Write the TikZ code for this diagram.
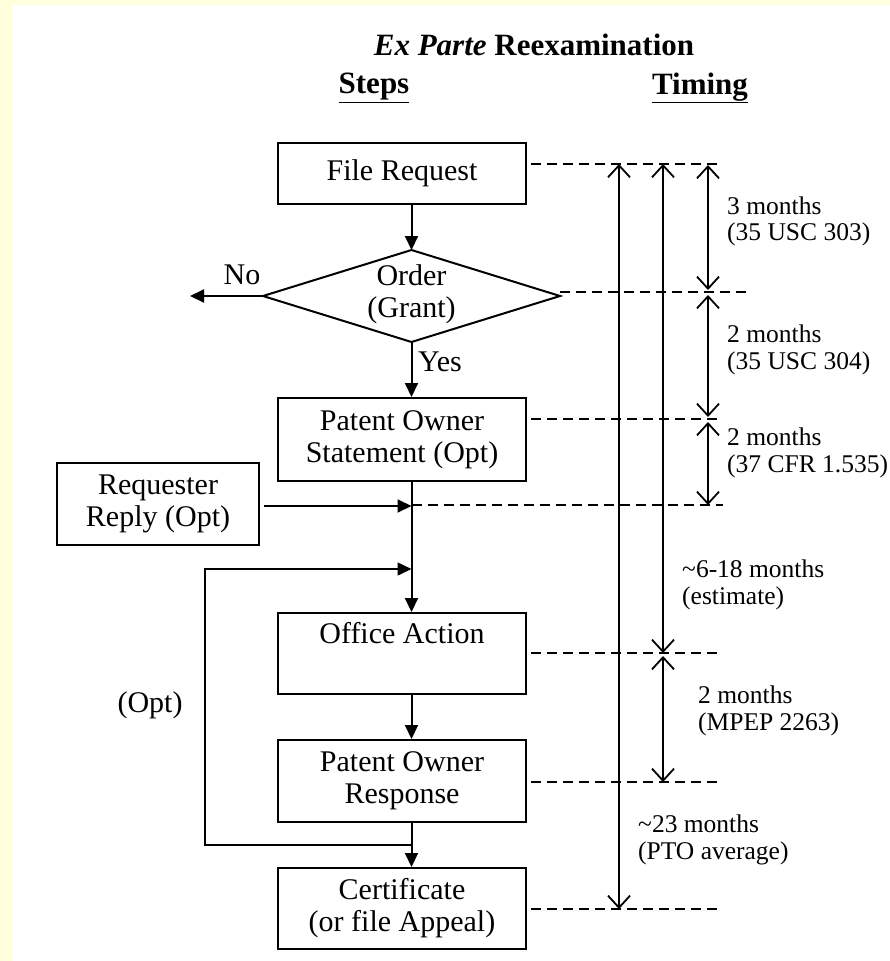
\documentclass[tikz,border=0pt]{standalone}
\usepackage{fontspec}
\setmainfont{Liberation Serif}
\usetikzlibrary{arrows.meta,calc}
\definecolor{bgyellow}{RGB}{255,255,221}
\begin{document}
\begin{tikzpicture}[x=1pt,y=-1pt,
  box/.style={draw,line width=2pt,rectangle,inner sep=0pt,align=center,font=\fontsize{30}{32}\selectfont},
  flow/.style={line width=2pt,-{Triangle[length=14pt,width=13pt]}},
  thinflow/.style={line width=1.5pt,-{Triangle[length=14pt,width=13pt]}},
  dashline/.style={line width=1.8pt,dash pattern=on 10pt off 6pt},
  span/.style={line width=1.8pt,{Straight Barb[length=12pt,width=22pt]}-{Straight Barb[length=12pt,width=22pt]}},
  tlabel/.style={anchor=west,align=left,inner sep=0pt,font=\fontsize{25.5}{26.5}\selectfont},
  lbl/.style={inner sep=0pt,align=center,font=\fontsize{30}{32}\selectfont},
  head/.style={inner sep=0pt,font=\fontsize{31}{33}\selectfont\bfseries}]

\useasboundingbox (0,0) rectangle (890,961);
\fill[bgyellow] (0,0) rectangle (890,961);
\fill[white] (13,5) rectangle (890,961);

% headings
\node[head] (title) at (534,45) {{\itshape Ex Parte} Reexamination};
\node[head] (steps) at (374,88) {\underline{Steps}};
\node[head] (timing) at (700,88) {\underline{Timing}};

% boxes
\node[box,minimum width=248pt,minimum height=61pt] (fr) at (402,173.5) {File Request};
\coordinate (dN) at (411.5,250);
\coordinate (dS) at (411.5,342);
\coordinate (dW) at (263,296);
\coordinate (dE) at (560,296);
\draw[line width=2pt,line join=miter] (dN) -- (dE) -- (dS) -- (dW) -- cycle;
\node[lbl] (dia) at (411.5,294) {Order\\(Grant)};
\node[box,minimum width=248pt,minimum height=83pt] (pos) at (402,439.5) {Patent Owner\\Statement (Opt)};
\node[box,minimum width=202pt,minimum height=82pt] (rr) at (158,504) {Requester\\Reply (Opt)};
\node[box,minimum width=248pt,minimum height=81pt] (oa) at (402,653.5) {Office Action\\\strut};
\node[box,minimum width=248pt,minimum height=82pt] (por) at (402,781) {Patent Owner\\Response};
\node[box,minimum width=248pt,minimum height=81pt] (cert) at (402,908.5) {Certificate\\(or file Appeal)};

% labels
\node[lbl] (no) at (242,275) {No};
\node[lbl,anchor=west] (yes) at (418,362) {Yes};
\node[lbl] (opt) at (150,705) {(Opt)};

% flow connectors
\coordinate (noend) at (190,296);
\coordinate (j1) at (411.5,506);
\coordinate (jt) at (411.5,569);
\coordinate (jb) at (411.5,845);
\coordinate (lx) at (205,0);
\draw[flow] (fr.south -| dN) -- (dN);
\draw[flow] (dS) -- (dS |- pos.north);
\draw[flow] (dW) -- (noend);
\draw[flow] (pos.south -| dN) -- (oa.north -| dN);
\draw[flow] ([xshift=4pt]rr.east |- j1) -- (j1);
\draw[thinflow] (jb) -- (jb -| lx) -- (lx |- jt) -- (jt);
\draw[flow] (oa.south -| dN) -- (por.north -| dN);
\draw[flow] (por.south -| dN) -- (cert.north -| dN);

% timing dashed lines
\coordinate (L1) at (723,164);
\coordinate (L2) at (752,292);
\coordinate (L3) at (723,419);
\coordinate (L4) at (723,505);
\coordinate (L5) at (723,653);
\coordinate (L6) at (723,782);
\coordinate (L7) at (723,909);
\draw[dashline] ([xshift=4pt]fr.east |- L1) -- (L1);
\draw[dashline] (dE |- L2) -- (L2);
\draw[dashline] ([xshift=4pt]pos.east |- L3) -- (L3);
\draw[dashline] (j1 |- L4) -- (L4);
\draw[dashline] ([xshift=4pt]oa.east |- L5) -- (L5);
\draw[dashline] ([xshift=4pt]por.east |- L6) -- (L6);
\draw[dashline] ([xshift=4pt]cert.east |- L7) -- (L7);

% timing spans
\coordinate (xa) at (619,0);
\coordinate (xb) at (663,0);
\coordinate (xc) at (708,0);
\draw[span] (xa |- L1) -- (xa |- L7);
\draw[span] (xb |- L1) -- (xb |- L5);
\draw[span,shorten <=1pt,shorten >=2pt] (xc |- L1) -- (xc |- L2);
\draw[span,shorten <=3pt,shorten >=2pt] (xc |- L2) -- (xc |- L3);
\draw[span,shorten <=3pt] (xc |- L3) -- (xc |- L4);
\draw[span,shorten <=3pt] (xb |- L5) -- (xb |- L6);

% timing labels
\node[tlabel] (t1) at (727,221.5) {3 months\\(35 USC 303)};
\node[tlabel] (t2) at (727,350) {2 months\\(35 USC 304)};
\node[tlabel] (t3) at (727,453) {2 months\\(37 CFR 1.535)};
\node[tlabel] (t4) at (682,585) {\textasciitilde6-18 months\\(estimate)};
\node[tlabel] (t5) at (698,711) {2 months\\(MPEP 2263)};
\node[tlabel] (t6) at (638,840) {\textasciitilde23 months\\(PTO average)};
\end{tikzpicture}
\end{document}
